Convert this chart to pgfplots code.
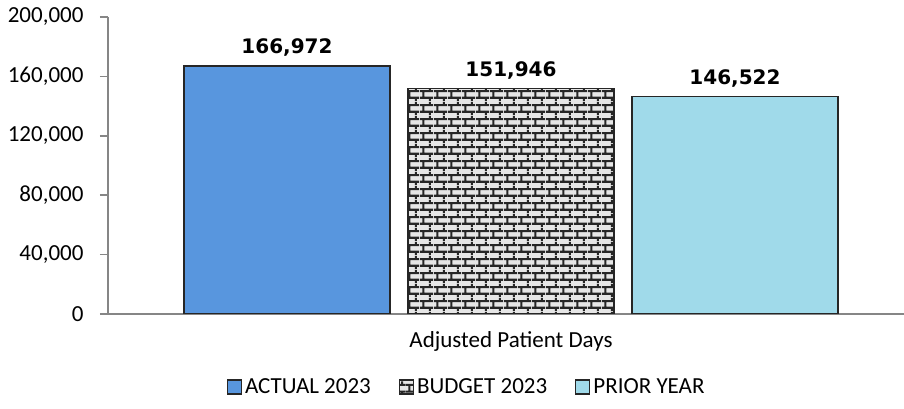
\documentclass[border=0pt]{standalone}
\usepackage{fontspec}
\setmainfont{Carlito}
\newfontfamily\labfont{DejaVu Sans}
\usepackage{pgfplots}
\pgfplotsset{compat=1.18}
\usetikzlibrary{patterns.meta}
\definecolor{barblue}{HTML}{5896DE}
\definecolor{barlight}{HTML}{A0DAEA}
\definecolor{brickfill}{HTML}{E6E6E6}
\definecolor{axisgray}{HTML}{868686}
\pgfdeclarepattern{
  name=mybricks,
  type=uncolored,
  bottom left={\pgfpoint{0pt}{0pt}},
  top right={\pgfpoint{14pt}{14pt}},
  tile size={\pgfpoint{14pt}{14pt}},
  code={
    \pgfsetlinewidth{2.2pt}
    \pgfpathmoveto{\pgfpoint{0pt}{3.5pt}}\pgfpathlineto{\pgfpoint{14pt}{3.5pt}}
    \pgfpathmoveto{\pgfpoint{0pt}{10.5pt}}\pgfpathlineto{\pgfpoint{14pt}{10.5pt}}
    \pgfpathmoveto{\pgfpoint{3.5pt}{3.5pt}}\pgfpathlineto{\pgfpoint{3.5pt}{10.5pt}}
    \pgfpathmoveto{\pgfpoint{10.5pt}{10.5pt}}\pgfpathlineto{\pgfpoint{10.5pt}{14pt}}
    \pgfpathmoveto{\pgfpoint{10.5pt}{0pt}}\pgfpathlineto{\pgfpoint{10.5pt}{3.5pt}}
    \pgfusepath{stroke}
  }
}
\begin{document}
\begin{tikzpicture}[x=1pt,y=1pt]
\useasboundingbox (0,0) rectangle (904,409);
\begin{axis}[
  at={(108pt,95pt)}, anchor=south west,
  scale only axis, width=796pt, height=297pt,
  ybar=18pt, bar width=206pt,
  xmin=-403, xmax=393, ymin=0, ymax=200000,
  axis x line=bottom, axis y line=left,
  axis line style={-, draw=axisgray, line width=1.5pt},
  xtick={0}, xticklabels={Adjusted Patient Days},
  xtick style={draw=none},
  xticklabel style={font=\fontsize{23}{27}\selectfont, yshift=-10pt},
  ytick={0,40000,80000,120000,160000,200000},
  ytick style={draw=axisgray, line width=1.5pt},
  ytick align=outside, major tick length=8pt,
  yticklabel style={font=\fontsize{23}{27}\selectfont, xshift=-13pt},
  scaled y ticks=false,
  /pgf/number format/.cd, fixed, 1000 sep={,}, assume math mode=true,
  /pgfplots/.cd,
  nodes near coords,
  every node near coord/.append style={font=\labfont\bfseries\fontsize{20}{24}\selectfont, black, inner ysep=8.5pt, anchor=south},
  legend columns=3,
  legend style={draw=none, at={(0.45,-0.246)}, anchor=center,
    font=\fontsize{23}{27}\selectfont, nodes={inner sep=1pt},
    /tikz/every odd column/.append style={column sep=2pt},
    /tikz/every even column/.append style={column sep=27pt}},
  legend image code/.code={\draw[#1, line width=1.2pt] (0pt,-7pt) rectangle (14pt,7pt);},
]
\addplot[fill=barblue, draw=black!85, line width=1.5pt] coordinates {(0,166972)};
\addplot[fill=brickfill, draw=black!85, line width=1.5pt, postaction={pattern={mybricks}, pattern color=black!85}] coordinates {(0,151946)};
\addplot[fill=barlight, draw=black!85, line width=1.5pt] coordinates {(0,146522)};
\legend{ACTUAL 2023, BUDGET 2023, PRIOR YEAR}
\end{axis}
\end{tikzpicture}
\end{document}
